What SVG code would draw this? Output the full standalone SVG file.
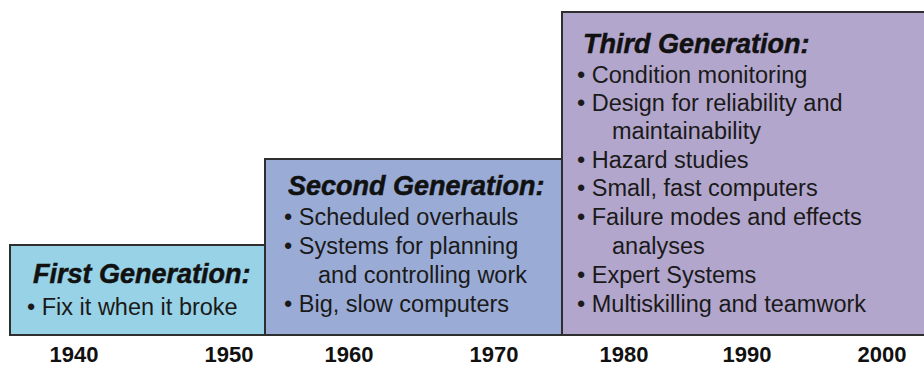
<svg xmlns="http://www.w3.org/2000/svg" width="924" height="367" viewBox="0 0 924 367">
<style>
.box{stroke:#2e2e2e;stroke-width:2}
.title{font-family:"Liberation Sans",Arial,sans-serif;font-weight:bold;font-style:italic;font-size:27px;fill:#111;stroke:#111;stroke-width:0.5}
.item{font-family:"Liberation Sans",Arial,sans-serif;font-size:23.5px;fill:#1a1a1a}
.year{font-family:"Liberation Sans",Arial,sans-serif;font-weight:bold;font-size:22px;fill:#111;text-anchor:middle}
</style>
<rect width="924" height="367" fill="#ffffff"/>
<g id="first-generation">
<rect class="box" x="10" y="245" width="260" height="90" fill="#98d2e6"/>
<text class="title" x="33" y="283">First Generation:</text>
<text class="item" x="27" y="315">• Fix it when it broke</text>
</g>
<g id="second-generation">
<rect class="box" x="265" y="159" width="302" height="176" fill="#9aacd6"/>
<text class="title" x="288" y="195">Second Generation:</text>
<text class="item" x="284" y="225">• Scheduled overhauls</text>
<text class="item" x="284" y="254">• Systems for planning</text>
<text class="item" x="318" y="283">and controlling work</text>
<text class="item" x="284" y="312">• Big, slow computers</text>
</g>
<g id="third-generation">
<rect class="box" x="562" y="12" width="372" height="323" fill="#b3a6cc"/>
<text class="title" x="583" y="53">Third Generation:</text>
<text class="item" x="577" y="83">• Condition monitoring</text>
<text class="item" x="577" y="111">• Design for reliability and</text>
<text class="item" x="612" y="139">maintainability</text>
<text class="item" x="577" y="168">• Hazard studies</text>
<text class="item" x="577" y="196">• Small, fast computers</text>
<text class="item" x="577" y="225">• Failure modes and effects</text>
<text class="item" x="612" y="254">analyses</text>
<text class="item" x="577" y="283">• Expert Systems</text>
<text class="item" x="577" y="312">• Multiskilling and teamwork</text>
</g>
<g id="timeline-axis">
<text class="year" x="74" y="362">1940</text>
<text class="year" x="229" y="362">1950</text>
<text class="year" x="349" y="362">1960</text>
<text class="year" x="494" y="362">1970</text>
<text class="year" x="624" y="362">1980</text>
<text class="year" x="747" y="362">1990</text>
<text class="year" x="882" y="362">2000</text>
</g>
<g id="connectors"></g>
</svg>
